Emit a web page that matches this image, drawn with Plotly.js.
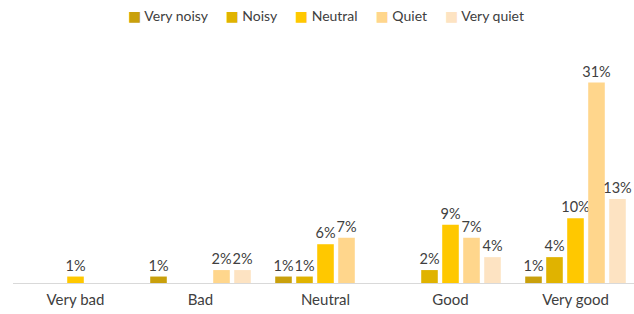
<!DOCTYPE html>
<html>
<head>
<meta charset="utf-8">
<script src="https://cdn.plot.ly/plotly-3.0.1.min.js"></script>
<style>
html,body{margin:0;padding:0;overflow:hidden;background:#fff;}
#chart{width:640px;height:314px;}
</style>
</head>
<body>
<div id="chart"></div>
<script>
const categories = ["Very bad", "Bad", "Neutral", "Good", "Very good"];
const seriesNames = ["Very noisy", "Noisy", "Neutral", "Quiet", "Very quiet"];
const veryNoisy = [null, 1, 1, null, 1];
const noisy = [null, null, 1, 2, 4];
const neutral = [1, null, 6, 9, 10];
const quiet = [null, 2, 7, 7, 31];
const veryQuiet = [null, 2, null, 4, 13];
const colors = ["#C9A00C", "#E0B300", "#FFC800", "#FFD68C", "#FDE3C2"];

const FONT = "Lato, 'Open Sans', sans-serif";
const allSeries = [veryNoisy, noisy, neutral, quiet, veryQuiet];
const traces = allSeries.map((vals, i) => ({
  type: "bar",
  name: seriesNames[i],
  x: categories,
  y: vals,
  text: vals.map(v => v == null ? "" : v + "%"),
  textposition: "outside",
  constraintext: "none",
  cliponaxis: false,
  textfont: {family: FONT, size: 14.5, color: "#404040"},
  marker: {color: colors[i], line: {width: 0}},
  hoverinfo: "none",
  showlegend: false
}));

// Compact legend built as one text line with coloured squares
const sp = "&nbsp;".repeat(5);
const legendText = seriesNames.map((n, i) =>
  '<span style="color:' + colors[i] + ';font-family:\'DejaVu Sans\'">■</span> ' + n
).join(sp);

const layout = {
  width: 640,
  height: 314,
  margin: {l: 13, r: 2, t: 60, b: 31},
  paper_bgcolor: "#ffffff",
  plot_bgcolor: "#ffffff",
  barmode: "group",
  bargap: 0.16,
  bargroupgap: 0.21,
  showlegend: false,
  annotations: [{
    xref: "paper", yref: "paper",
    x: 0.5, y: 1, xanchor: "center", yanchor: "middle",
    yshift: 45,
    showarrow: false,
    text: legendText,
    font: {family: FONT, size: 14, color: "#404040"}
  }],
  xaxis: {
    type: "category",
    showgrid: false,
    showline: true,
    linecolor: "#D9D9D9",
    linewidth: 1,
    ticks: "",
    ticklabelstandoff: 3,
    tickfont: {family: FONT, size: 15, color: "#404040"},
    fixedrange: true
  },
  yaxis: {
    range: [0, 34.5],
    visible: false,
    showgrid: false,
    zeroline: false,
    fixedrange: true
  },
  font: {family: FONT}
};

Plotly.newPlot("chart", traces, layout, {staticPlot: true, displayModeBar: false});
</script>
</body>
</html>
